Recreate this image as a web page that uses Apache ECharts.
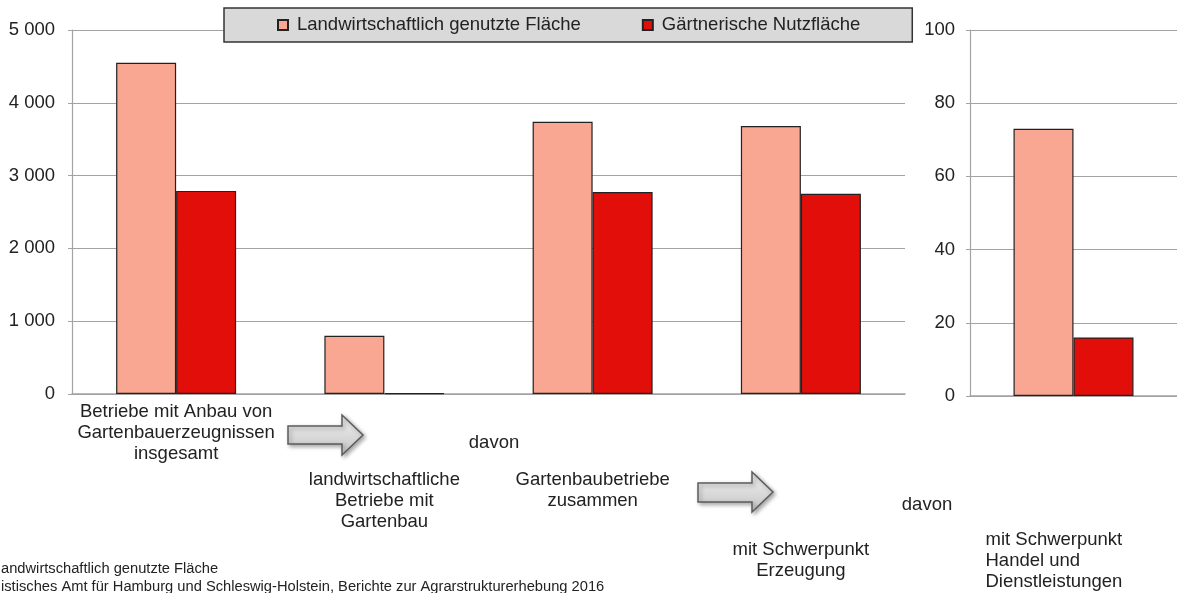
<!DOCTYPE html>
<html>
<head>
<meta charset="utf-8">
<script src="https://cdn.jsdelivr.net/npm/echarts@6/dist/echarts.min.js"></script>
<style>
html,body{margin:0;padding:0;background:#fff;}
#c{width:1177px;height:593px;}
</style>
</head>
<body>
<div id="c"></div>
<script>
// ---- data ----
const categoriesLeft = [
  'Betriebe mit Anbau von\nGartenbauerzeugnissen\ninsgesamt',
  'landwirtschaftliche\nBetriebe mit\nGartenbau',
  'Gartenbaubetriebe\nzusammen',
  'mit Schwerpunkt\nErzeugung'
];
const categoriesRight = ['mit Schwerpunkt\nHandel und\nDienstleistungen'];
const seriesNames = ['Landwirtschaftlich genutzte Fläche', 'Gärtnerische Nutzfläche'];
const lfLeft = [4550, 800, 3740, 3680];
const gnLeft = [2790, 12, 2775, 2750];
const lfRight = [73];
const gnRight = [16];
const leftTickLabels = ['0', '1 000', '2 000', '3 000', '4 000', '5 000'];
const rightTickLabels = ['0', '20', '40', '60', '80', '100'];
const footnotes = [
  'andwirtschaftlich genutzte Fläche',
  'istisches Amt für Hamburg und Schleswig-Holstein, Berichte zur Agrarstrukturerhebung 2016'
];
const connectorWord = 'davon';

// ---- styling / layout ----
const FONT = 'Liberation Sans, Arial, sans-serif';
const FS = 18.5;
const TXT = '#222222';
const PINK = '#F9A692';
const RED = '#E20E0A';
const GRID = '#a3a3a3';
const leftLabelPad = [0, 68, 68, 138];

const chart = echarts.init(document.getElementById('c'), null, {renderer: 'canvas'});

const barStyle = (c) => ({color: c, borderColor: '#222', borderWidth: 1.2});

function arrow(x0, yTop, yBot, xNeck, headTop, headBot, xTip) {
  const yMid = (headTop + headBot) / 2;
  return {
    type: 'polygon',
    z: 100,
    shape: {points: [[x0, yTop], [xNeck, yTop], [xNeck, headTop], [xTip, yMid], [xNeck, headBot], [xNeck, yBot], [x0, yBot]]},
    style: {
      fill: {type: 'linear', x: 0, y: 0, x2: 0, y2: 1, colorStops: [{offset: 0, color: '#f2f2f2'}, {offset: 1, color: '#c4c4c4'}]},
      stroke: '#5c5c5c', lineWidth: 1.5,
      shadowBlur: 4, shadowOffsetX: 2, shadowOffsetY: 2, shadowColor: 'rgba(0,0,0,0.35)'
    }
  };
}

function text(str, x, y, align, size) {
  return {
    type: 'text', x: x, y: y, z: 100,
    style: {text: str, fill: TXT, font: size + 'px ' + FONT, align: align, verticalAlign: 'middle'}
  };
}

const option = {
  animation: false,
  textStyle: {fontFamily: FONT},
  legend: {
    left: 224, top: 8,
    data: seriesNames,
    backgroundColor: '#d9d9d9',
    borderColor: '#333', borderWidth: 1.5,
    padding: [7.5, 52, 7.5, 53],
    itemGap: 61,
    itemWidth: 18, itemHeight: 10,
    icon: 'path://M0,0L10,0L10,10L0,10Z',
    textStyle: {fontSize: FS, color: TXT, fontFamily: FONT, lineHeight: 18}
  },
  grid: [
    {left: 72, top: 30, width: 833, height: 364},
    {left: 970, top: 30, width: 210, height: 366}
  ],
  xAxis: [
    {
      type: 'category', gridIndex: 0,
      data: categoriesLeft.map((c, i) => ({value: c, textStyle: {padding: [leftLabelPad[i], 0, 0, 0]}})),
      axisLine: {lineStyle: {color: GRID, width: 1.5}},
      axisTick: {show: false},
      axisLabel: {interval: 0, margin: 7, fontSize: FS, lineHeight: 21, color: TXT, fontFamily: FONT, align: 'center'}
    },
    {
      type: 'category', gridIndex: 1,
      data: categoriesRight,
      axisLine: {lineStyle: {color: GRID, width: 1.5}},
      axisTick: {show: false},
      axisLabel: {
        interval: 0, margin: 7, padding: [126, 0, 0, 0],
        formatter: (v) => v.split('\n').map(s => '{a|' + s + '}').join('\n'),
        rich: {a: {width: 176, align: 'left', fontSize: FS, lineHeight: 21, color: TXT, fontFamily: FONT}}
      }
    }
  ],
  yAxis: [
    {
      type: 'value', gridIndex: 0, min: 0, max: 5000, interval: 1000,
      axisLine: {show: true, lineStyle: {color: GRID, width: 1.2}},
      axisTick: {show: true, length: 4, lineStyle: {color: GRID}},
      splitLine: {lineStyle: {color: GRID, width: 1.2}},
      axisLabel: {margin: 17, fontSize: FS, color: TXT, fontFamily: FONT,
        formatter: (v) => leftTickLabels[Math.round(v / 1000)]}
    },
    {
      type: 'value', gridIndex: 1, min: 0, max: 100, interval: 20,
      axisLine: {show: true, lineStyle: {color: GRID, width: 1.2}},
      axisTick: {show: true, length: 4, lineStyle: {color: GRID}},
      splitLine: {lineStyle: {color: GRID, width: 1.2}},
      axisLabel: {margin: 15, fontSize: FS, color: TXT, fontFamily: FONT,
        formatter: (v) => rightTickLabels[Math.round(v / 20)]}
    }
  ],
  series: [
    {name: seriesNames[0], type: 'bar', xAxisIndex: 0, yAxisIndex: 0, data: lfLeft, barWidth: 60, barGap: '0%', itemStyle: barStyle(PINK)},
    {name: seriesNames[1], type: 'bar', xAxisIndex: 0, yAxisIndex: 0, data: gnLeft, barWidth: 60, barGap: '0%', itemStyle: barStyle(RED)},
    {name: seriesNames[0], type: 'bar', xAxisIndex: 1, yAxisIndex: 1, data: lfRight, barWidth: 60, barGap: '0%', itemStyle: barStyle(PINK)},
    {name: seriesNames[1], type: 'bar', xAxisIndex: 1, yAxisIndex: 1, data: gnRight, barWidth: 60, barGap: '0%', itemStyle: barStyle(RED)}
  ],
  graphic: [
    arrow(288, 426, 444, 342, 415, 455, 363),
    arrow(698, 483, 502, 752, 472, 512, 773),
    text(connectorWord, 494, 443, 'center', FS),
    text(connectorWord, 927, 505, 'center', FS),
    text(footnotes[0], 1, 569, 'left', 14.7),
    text(footnotes[1], 1, 587, 'left', 14.7)
  ]
};
chart.setOption(option);
</script>
</body>
</html>
